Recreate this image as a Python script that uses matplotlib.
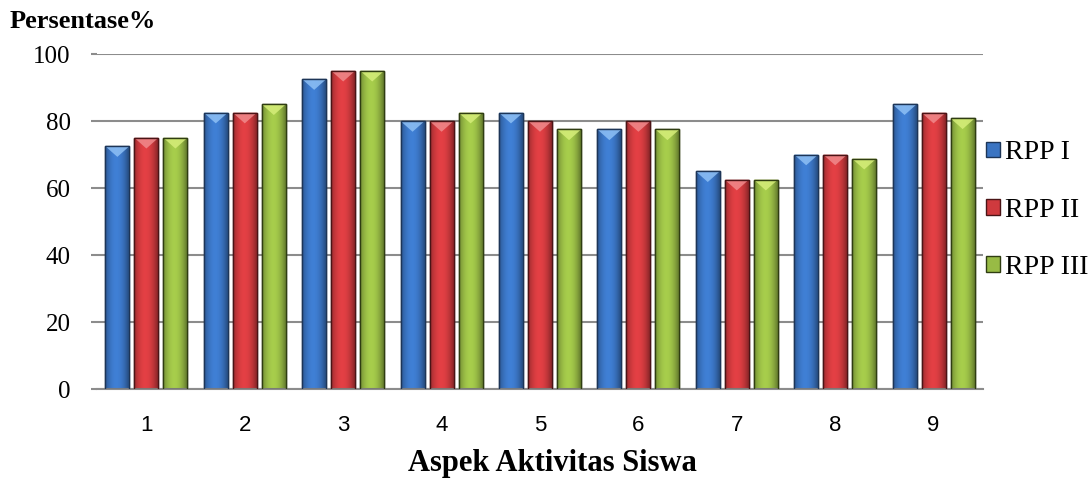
import numpy as np
import matplotlib.pyplot as plt
from matplotlib.colors import to_rgb
from matplotlib.patches import Polygon

categories = ["1", "2", "3", "4", "5", "6", "7", "8", "9"]
rpp1 = [72.5, 82.5, 92.5, 80, 82.5, 77.5, 65, 70, 85]
rpp2 = [75, 82.5, 95, 80, 80, 80, 62.5, 70, 82.5]
rpp3 = [75, 85, 95, 82.5, 77.5, 77.5, 62.5, 68.75, 80.8]
series_names = ["RPP I", "RPP II", "RPP III"]

colors = ["#3a74c2", "#cf3a3e", "#98bb45"]
tops = ["#8ec0f5", "#f08a8c", "#d6ee7a"]
edges = ["#1d3557", "#4a1416", "#2f3d12"]

serif = "Liberation Serif"

fig = plt.figure(figsize=(10.92, 4.78), dpi=100)
ax = fig.add_axes([0.089, 0.186, 0.811, 0.701])

x = np.arange(len(categories))
width = 0.245
step = 0.295


def shade(ax, bar, base):
    # horizontal gradient: dark edges, lighter middle
    r, g, b = to_rgb(base)
    t = np.linspace(0, 1, 64)
    f = 0.72 + 0.38 * np.sin(np.pi * np.clip(t * 1.1, 0, 1)) ** 0.8
    img = np.zeros((1, 64, 3))
    img[0, :, 0] = np.clip(r * f, 0, 1)
    img[0, :, 1] = np.clip(g * f, 0, 1)
    img[0, :, 2] = np.clip(b * f, 0, 1)
    x0, y0 = bar.get_x(), bar.get_y()
    w, h = bar.get_width(), bar.get_height()
    im = ax.imshow(img, extent=[x0, x0 + w, y0, y0 + h], aspect="auto",
                   zorder=2, interpolation="bilinear")
    im.set_clip_path(bar)


for i, (vals, name) in enumerate(zip([rpp1, rpp2, rpp3], series_names)):
    pos = x + (i - 1) * step
    bars = ax.bar(pos, vals, width, color=colors[i], edgecolor=edges[i],
                  linewidth=1.0, zorder=2, label=name)
    for bar in bars:
        shade(ax, bar, colors[i])
        bx, w, h = bar.get_x(), bar.get_width(), bar.get_height()
        tri = Polygon([[bx, h], [bx + w, h], [bx + w / 2, h - 3.2]],
                      closed=True, facecolor=tops[i], edgecolor="none",
                      alpha=0.85, zorder=3)
        ax.add_patch(tri)
        ax.bar(bar.get_x() + w / 2, h, w, fill=False, edgecolor=edges[i],
               linewidth=1.0, zorder=4)

ax.set_xlim(-0.5, len(categories) - 0.5)
ax.set_ylim(0, 100)
ax.set_yticks(range(0, 101, 20))
ax.set_xticks(x)
ax.set_xticklabels(categories, fontsize=16, family="Liberation Sans")
for lbl in ax.get_yticklabels():
    lbl.set_family(serif)
    lbl.set_fontsize(18)

ax.grid(axis="y", color="#8c8c8c", linewidth=1.5, zorder=0)
ax.set_axisbelow(True)
for s in ["top", "right", "left"]:
    ax.spines[s].set_visible(False)
ax.spines["bottom"].set_color("#8c8c8c")
ax.spines["bottom"].set_linewidth(1.5)
ax.tick_params(axis="y", length=4, width=1.5, color="#8c8c8c", pad=15)
ax.tick_params(axis="x", length=0, pad=19)

fig.text(0.009, 0.954, "Persentase%", family=serif, fontsize=19,
         fontweight="bold", ha="left", va="center")
fig.text(0.506, 0.03, "Aspek Aktivitas Siswa", family=serif, fontsize=22,
         fontweight="bold", ha="center", va="center")

leg = ax.legend(loc="center left", bbox_to_anchor=(986 / 1092, 1 - 210 / 478),
                bbox_transform=fig.transFigure, frameon=False,
                prop={"family": serif, "size": 20}, handlelength=0.5,
                handleheight=0.5, handletextpad=0.2, labelspacing=1.16,
                borderpad=0, borderaxespad=0)

fig.savefig("out.png", dpi=100)
